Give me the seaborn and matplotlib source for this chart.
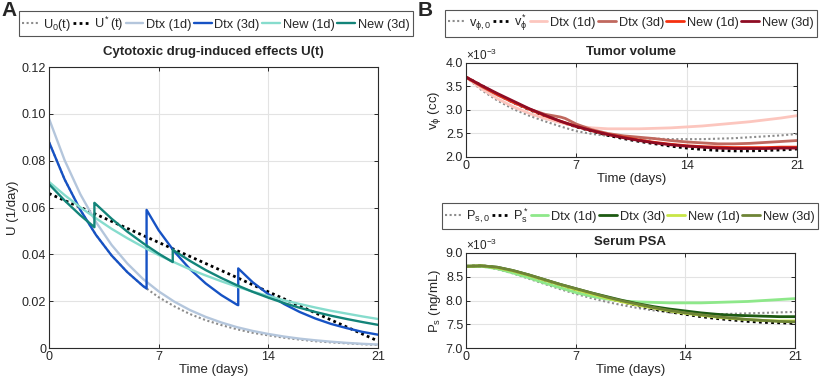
import matplotlib
matplotlib.use("Agg")
import matplotlib.pyplot as plt
import seaborn as sns
import numpy as np

sns.set_theme(style="whitegrid")
plt.rcParams['font.family'] = ['Liberation Sans', 'DejaVu Sans']
plt.rcParams['mathtext.fontset'] = 'custom'
plt.rcParams['mathtext.rm'] = 'Liberation Sans'
plt.rcParams['mathtext.it'] = 'Liberation Sans'

# ---- data -------------------------------------------------------------
days = list(range(22))

# panel A: cytotoxic effects U(t) (1/day)
u0 = [0.0880, 0.0720, 0.0590, 0.0483, 0.0395, 0.0324, 0.0265, 0.0217, 0.0178, 0.0145, 0.0119,
      0.0098, 0.0080, 0.0065, 0.0054, 0.0044, 0.0036, 0.0029, 0.0024, 0.0020, 0.0016, 0.0013]
u_star = [0.0660, 0.0630, 0.0601, 0.0571, 0.0541, 0.0511, 0.0481, 0.0451, 0.0421, 0.0391, 0.0361,
          0.0331, 0.0301, 0.0270, 0.0240, 0.0210, 0.0180, 0.0150, 0.0120, 0.0090, 0.0060, 0.0030]
dtx1 = [0.0980, 0.0802, 0.0657, 0.0538, 0.0440, 0.0361, 0.0295, 0.0242, 0.0198, 0.0162, 0.0133,
        0.0109, 0.0089, 0.0073, 0.0060, 0.0049, 0.0040, 0.0033, 0.0027, 0.0022, 0.0018, 0.0015]
dtx3_t = [0, 1, 2, 3, 4, 5, 6, 6.23, 6.23, 7, 8, 9, 10, 11, 12, 12.08, 12.08,
          13, 14, 15, 16, 17, 18, 19, 20, 21]
dtx3 = [0.0880, 0.0720, 0.0590, 0.0483, 0.0395, 0.0324, 0.0265, 0.0254, 0.0590, 0.0503, 0.0412,
        0.0337, 0.0276, 0.0226, 0.0185, 0.0183, 0.0340, 0.0281, 0.0230, 0.0188, 0.0154, 0.0126,
        0.0103, 0.0085, 0.0069, 0.0057]
new1 = [0.0710, 0.0653, 0.0601, 0.0554, 0.0509, 0.0469, 0.0432, 0.0397, 0.0366, 0.0336, 0.0310,
        0.0285, 0.0262, 0.0241, 0.0222, 0.0204, 0.0188, 0.0173, 0.0159, 0.0147, 0.0135, 0.0124]
new3_t = [0, 1, 2, 2.9, 2.9, 3, 4, 5, 6, 7, 7.9, 7.9, 8, 9, 10, 11, 12, 13, 14, 15, 16, 17,
          18, 19, 20, 21]
new3 = [0.0700, 0.0630, 0.0567, 0.0516, 0.0620, 0.0614, 0.0552, 0.0497, 0.0448, 0.0403, 0.0367,
        0.0420, 0.0415, 0.0372, 0.0333, 0.0299, 0.0268, 0.0240, 0.0215, 0.0192, 0.0172, 0.0154,
        0.0138, 0.0124, 0.0111, 0.0099]

# panel B top: tumor volume (x 10^-3 cc)
v0 = [3.70, 3.42, 3.20, 3.02, 2.88, 2.76, 2.65, 2.55, 2.49, 2.45, 2.42, 2.40, 2.39, 2.38, 2.38,
      2.38, 2.39, 2.40, 2.42, 2.44, 2.46, 2.49]
v_star = [3.70, 3.52, 3.33, 3.16, 3.01, 2.87, 2.75, 2.64, 2.55, 2.46, 2.39, 2.33, 2.28, 2.23,
          2.19, 2.16, 2.14, 2.13, 2.13, 2.14, 2.15, 2.17]
v_dtx1 = [3.70, 3.45, 3.24, 3.07, 2.93, 2.82, 2.73, 2.66, 2.62, 2.60, 2.60, 2.60, 2.61, 2.62,
          2.64, 2.66, 2.69, 2.72, 2.75, 2.79, 2.83, 2.88]
v_dtx3_t = [0, 1, 2, 3, 4, 5, 6, 6.3, 7, 8, 9, 10, 11, 12, 13, 14, 15, 16, 17, 18, 19, 20, 21]
v_dtx3 = [3.70, 3.50, 3.32, 3.16, 3.02, 2.91, 2.85, 2.82, 2.70, 2.58, 2.50, 2.45, 2.42, 2.39,
          2.35, 2.32, 2.30, 2.28, 2.28, 2.29, 2.31, 2.33, 2.35]
v_new1 = [3.70, 3.51, 3.33, 3.17, 3.02, 2.88, 2.76, 2.65, 2.56, 2.48, 2.42, 2.36, 2.31, 2.27,
          2.24, 2.22, 2.21, 2.20, 2.20, 2.20, 2.21, 2.21]
v_new3 = [3.70, 3.52, 3.35, 3.19, 3.03, 2.89, 2.76, 2.65, 2.56, 2.48, 2.41, 2.35, 2.30, 2.26,
          2.23, 2.21, 2.19, 2.18, 2.18, 2.18, 2.19, 2.19]

# panel B bottom: serum PSA (x 10^-3 ng/mL)
p0 = [8.72, 8.72, 8.66, 8.57, 8.46, 8.35, 8.24, 8.14, 8.05, 7.97, 7.90, 7.84, 7.79, 7.75, 7.72,
      7.71, 7.71, 7.72, 7.73, 7.74, 7.75, 7.76]
p_star = [8.72, 8.73, 8.69, 8.62, 8.53, 8.43, 8.33, 8.23, 8.14, 8.05, 7.97, 7.89, 7.82, 7.76,
          7.71, 7.66, 7.62, 7.59, 7.56, 7.54, 7.53, 7.52]
p_dtx1 = [8.72, 8.72, 8.67, 8.58, 8.48, 8.37, 8.27, 8.17, 8.09, 8.03, 7.99, 7.97, 7.96, 7.95,
          7.95, 7.95, 7.96, 7.97, 7.98, 8.00, 8.02, 8.04]
p_dtx3 = [8.72, 8.73, 8.70, 8.63, 8.54, 8.44, 8.34, 8.25, 8.16, 8.08, 8.00, 7.93, 7.87, 7.82,
          7.78, 7.74, 7.71, 7.69, 7.68, 7.67, 7.66, 7.66]
p_new1 = [8.72, 8.73, 8.69, 8.62, 8.53, 8.43, 8.33, 8.23, 8.14, 8.05, 7.97, 7.90, 7.84, 7.78,
          7.73, 7.69, 7.65, 7.62, 7.60, 7.58, 7.57, 7.57]
p_new3 = [8.72, 8.73, 8.70, 8.63, 8.54, 8.44, 8.34, 8.25, 8.16, 8.07, 7.99, 7.92, 7.85, 7.79,
          7.74, 7.70, 7.66, 7.63, 7.60, 7.58, 7.56, 7.55]

x_ticks = [0, 7, 14, 21]

# ---- helpers ----------------------------------------------------------
def draw(ax, t, y, color, label, dotted=False, lw=1.7):
    ls = (0, (1, 1.2)) if dotted else '-'
    sns.lineplot(x=t, y=y, ax=ax, color=color, lw=lw, linestyle=ls, label=label,
                 estimator=None, sort=False, legend=False)


def style_axis(ax, ylim, yticks, ylabels, ylabel, title, pad):
    ax.set_xlim(0, 21)
    ax.set_ylim(*ylim)
    ax.set_xticks(x_ticks)
    ax.set_yticks(yticks)
    ax.set_yticklabels(ylabels)
    ax.set_xlabel('Time (days)', fontsize=9.5, labelpad=1, color='#262626')
    ax.set_ylabel(ylabel, fontsize=9.5, labelpad=2, color='#262626')
    ax.set_title(title, fontsize=9.5, fontweight='bold', pad=pad)
    ax.grid(True, color='#e3e3e3', lw=0.8)
    ax.tick_params(axis='both', direction='in', length=3, width=0.7, labelsize=9,
                   colors='#262626', pad=2, top=True, right=True, bottom=True, left=True)
    for s in ax.spines.values():
        s.set_color('#2b2b2b')
        s.set_linewidth(0.8)


def boxed_legend(ax, fig, xc, yc):
    h, l = ax.get_legend_handles_labels()
    leg = fig.legend(h, l, loc='center', bbox_to_anchor=(xc, yc), ncol=6, fontsize=9.2,
                     frameon=True, fancybox=False, handlelength=1.4, handletextpad=0.2,
                     columnspacing=0.2, borderpad=0.25, borderaxespad=0)
    leg.get_frame().set_edgecolor('#2b2b2b')
    leg.get_frame().set_linewidth(0.8)
    return leg


fig = plt.figure(figsize=(8.3, 3.92), dpi=100)
fig.patch.set_facecolor('white')

# ---- panel A ----------------------------------------------------------
axA = fig.add_axes([0.059, 0.1122, 0.3964, 0.7168])
draw(axA, days, u0, '#8c8c8c', 'U$_0$(t)', dotted=True, lw=1.5)
draw(axA, days, u_star, 'black', 'U$^*$(t)', dotted=True, lw=2.0)
draw(axA, days, dtx1, '#b4c6dc', 'Dtx (1d)')
draw(axA, dtx3_t, dtx3, '#1652c4', 'Dtx (3d)')
draw(axA, days, new1, '#86dccd', 'New (1d)')
draw(axA, new3_t, new3, '#138479', 'New (3d)')
style_axis(axA, (0, 0.12), [0, 0.02, 0.04, 0.06, 0.08, 0.10, 0.12],
           ['0', '0.02', '0.04', '0.06', '0.08', '0.10', '0.12'],
           'U (1/day)', 'Cytotoxic drug-induced effects U(t)', pad=9)
boxed_legend(axA, fig, 0.260, 0.940)

# ---- panel B top ------------------------------------------------------
axB1 = fig.add_axes([0.5614, 0.5995, 0.3988, 0.2398])
draw(axB1, days, v0, '#8c8c8c', r'v$_{\phi,0}$', dotted=True, lw=1.5)
draw(axB1, days, v_star, 'black', r'v$_{\phi}^*$', dotted=True, lw=2.0)
draw(axB1, days, v_dtx1, '#fcc6be', 'Dtx (1d)', lw=2.0)
draw(axB1, v_dtx3_t, v_dtx3, '#c0685e', 'Dtx (3d)', lw=2.0)
draw(axB1, days, v_new1, '#f5300f', 'New (1d)', lw=2.0)
draw(axB1, days, v_new3, '#8e0c24', 'New (3d)', lw=2.0)
yt = [2.0, 2.5, 3.0, 3.5, 4.0]
style_axis(axB1, (2.0, 4.0), yt, ['%.1f' % v for v in yt], r'v$_\phi$ (cc)', 'Tumor volume',
           pad=6)
axB1.text(0.0, 1.005, r'$\times$10$^{-3}$', transform=axB1.transAxes, fontsize=8.5,
          color='#262626', va='bottom', ha='left')
boxed_legend(axB1, fig, 0.760, 0.941)

# ---- panel B bottom ---------------------------------------------------
axB2 = fig.add_axes([0.5614, 0.1122, 0.3964, 0.2424])
draw(axB2, days, p0, '#8c8c8c', 'P$_{s,0}$', dotted=True, lw=1.5)
draw(axB2, days, p_star, 'black', 'P$_s^*$', dotted=True, lw=2.0)
draw(axB2, days, p_dtx1, '#8ee88a', 'Dtx (1d)', lw=2.0)
draw(axB2, days, p_dtx3, '#1d5a12', 'Dtx (3d)', lw=2.0)
draw(axB2, days, p_new1, '#c8e646', 'New (1d)', lw=2.0)
draw(axB2, days, p_new3, '#6e8436', 'New (3d)', lw=2.0)
yt = [7.0, 7.5, 8.0, 8.5, 9.0]
style_axis(axB2, (7.0, 9.0), yt, ['%.1f' % v for v in yt], 'P$_s$ (ng/mL)', 'Serum PSA', pad=6)
axB2.text(0.0, 1.005, r'$\times$10$^{-3}$', transform=axB2.transAxes, fontsize=8.5,
          color='#262626', va='bottom', ha='left')
boxed_legend(axB2, fig, 0.759, 0.449)

# panel letters
fig.text(0.002, 0.998, 'A', fontsize=15, fontweight='bold', va='top', ha='left')
fig.text(0.503, 0.998, 'B', fontsize=15, fontweight='bold', va='top', ha='left')

fig.savefig('out.png', dpi=100, facecolor='white')
